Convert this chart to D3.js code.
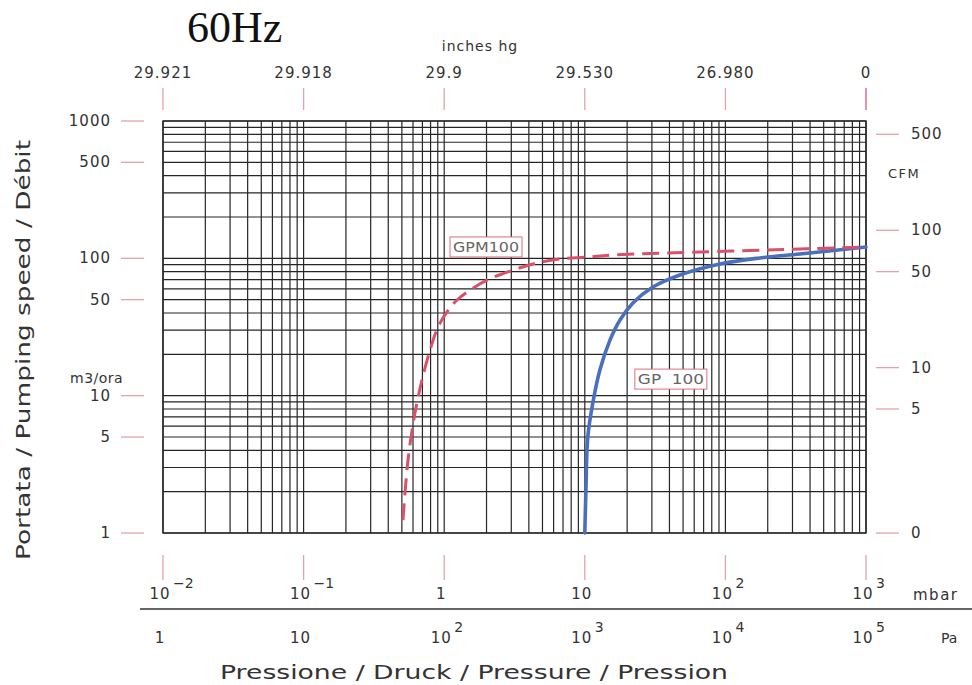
<!DOCTYPE html>
<html><head><meta charset="utf-8">
<script src="https://cdn.jsdelivr.net/npm/d3@7"></script>
<style>
html,body{margin:0;padding:0;background:#fff;}
svg{display:block;}
text{font-family:"DejaVu Sans",sans-serif;fill:#333;}
</style></head>
<body>
<svg id="c" width="972" height="685"></svg>
<script>
// ---- data ----
const pressureDomainMbar = [0.01, 1000];
const speedDomainM3h = [1, 1000];
const leftTicks = [1000, 500, 100, 50, 10, 5, 1];
const cfmTicks = [500, 100, 50, 10, 5, 0];
const cfmToM3h = 1.6; // approximate scale used on the original chart
const mbarTicks = [0.01, 0.1, 1, 10, 100, 1000];
const mbarBase = ["10", "10", "1", "10", "10", "10"];
const mbarExp = ["\u22122", "\u22121", "", "", "2", "3"];
const paBase = ["1", "10", "10", "10", "10", "10"];
const paExp = ["", "", "2", "3", "4", "5"];
const inHgLabels = ["29.921", "29.918", "29.9", "29.530", "26.980", "0"];

// series: [pressure mbar, pumping speed m3/h]
const gpm100 = [[0.509,1.24],[0.553,3.4],[0.62,7.5],[0.695,13],[0.793,21.5],[0.904,31.6],[1.047,40.7],[1.233,49.7],[1.526,58.8],[2.016,69.5],[3.08,82],[4.57,92.5],[6.66,98.9],[10.4,102],[15.8,105.7],[38.5,109.3],[198,115],[1000,121]];
const gp100 = [[10,1],[10.2,2.16],[10.5,5],[11.4,8.84],[12.8,15.4],[15.1,25.4],[17.8,35.6],[22,47.3],[30.5,61.8],[47.5,75.6],[91.5,90.9],[176,100.6],[339,107.6],[1000,121]];

// ---- layout ----
const svg = d3.select("#c");
const L = 163, R = 866, T = 121, B = 533;
const x = d3.scaleLog().domain(pressureDomainMbar).range([L, R]);
const y = d3.scaleLog().domain(speedDomainM3h).range([B, T]);
const pink = "#e3a3ad", grid = "#262626";

// title
svg.append("text").attr("x", 187).attr("y", 42)
  .style("font-family", "'Liberation Serif','Times New Roman',serif")
  .style("font-size", "44px").style("fill", "#111").text("60Hz");

// grid
const gx = svg.append("g");
gx.selectAll("line.v").data(x.ticks()).join("line")
  .attr("x1", d => x(d)).attr("x2", d => x(d)).attr("y1", T).attr("y2", B)
  .attr("stroke", grid).attr("stroke-width", 1.2);
gx.selectAll("line.h").data(y.ticks()).join("line")
  .attr("y1", d => y(d)).attr("y2", d => y(d)).attr("x1", L).attr("x2", R)
  .attr("stroke", grid).attr("stroke-width", 1.2);
gx.append("rect").attr("x", L).attr("y", T).attr("width", R - L).attr("height", B - T)
  .attr("fill", "none").attr("stroke", grid).attr("stroke-width", 1.4);

// left axis
const la = svg.append("g");
la.selectAll("line").data(leftTicks).join("line")
  .attr("x1", 121).attr("x2", 144).attr("y1", d => y(d)).attr("y2", d => y(d))
  .attr("stroke", pink).attr("stroke-width", 1.3);
la.selectAll("text").data(leftTicks).join("text")
  .attr("x", 111).attr("y", d => y(d) + 5).attr("text-anchor", "end")
  .style("font-size", "15px").style("letter-spacing", "1px").text(d => d);
svg.append("text").attr("x", 70).attr("y", 383).style("font-size", "14px")
  .style("letter-spacing", "0.5px").text("m3/ora");

// right axis (CFM)
const ra = svg.append("g");
const cfmPos = v => y(v === 0 ? 1 : v * cfmToM3h);
ra.selectAll("line").data(cfmTicks).join("line")
  .attr("x1", 876).attr("x2", 899).attr("y1", cfmPos).attr("y2", cfmPos)
  .attr("stroke", pink).attr("stroke-width", 1.3);
ra.selectAll("text").data(cfmTicks).join("text")
  .attr("x", 911).attr("y", d => cfmPos(d) + 5)
  .style("font-size", "15px").style("letter-spacing", "1px").text(d => d);
svg.append("text").attr("x", 888).attr("y", 178).style("font-size", "13px")
  .style("letter-spacing", "1.5px").text("CFM");

// top axis (inches hg)
const ta = svg.append("g");
ta.selectAll("line").data(mbarTicks).join("line")
  .attr("x1", d => x(d)).attr("x2", d => x(d)).attr("y1", 88).attr("y2", 110)
  .attr("stroke", (d, i) => i === mbarTicks.length - 1 ? "#d85a72" : pink).attr("stroke-width", 1.3);
ta.selectAll("text").data(mbarTicks).join("text")
  .attr("x", d => x(d)).attr("y", 78).attr("text-anchor", "middle")
  .style("font-size", "15px").style("letter-spacing", "1px").text((d, i) => inHgLabels[i]);
svg.append("text").attr("x", 480).attr("y", 51).attr("text-anchor", "middle")
  .style("font-size", "14px").style("letter-spacing", "1px").text("inches hg");

// bottom axis (mbar / Pa)
const ba = svg.append("g");
ba.selectAll("line").data(mbarTicks).join("line")
  .attr("x1", d => x(d)).attr("x2", d => x(d)).attr("y1", 555).attr("y2", 580)
  .attr("stroke", pink).attr("stroke-width", 1.3);
function expLabel(g, base, exp, baseline) {
  g.each(function (d, i) {
    const t = d3.select(this);
    const cx = x(d) - 3;
    t.append("text").attr("x", cx).attr("y", baseline).attr("text-anchor", "middle")
      .style("font-size", "15px").style("letter-spacing", "1px").text(base[i]);
    if (exp[i] !== "") {
      t.append("text").attr("x", cx + 13).attr("y", baseline - 11)
        .style("font-size", "14px").text(exp[i]);
    }
  });
}
ba.selectAll("g.m").data(mbarTicks).join("g").attr("class", "m")
  .call(g => expLabel(g, mbarBase, mbarExp, 599));
ba.selectAll("g.p").data(mbarTicks).join("g").attr("class", "p")
  .call(g => expLabel(g, paBase, paExp, 643));
svg.append("line").attr("x1", 140).attr("x2", 972).attr("y1", 609).attr("y2", 609)
  .attr("stroke", "#333").attr("stroke-width", 1.5);
svg.append("text").attr("x", 913).attr("y", 600).style("font-size", "15px")
  .style("letter-spacing", "1.5px").text("mbar");
svg.append("text").attr("x", 941).attr("y", 643).style("font-size", "14px").text("Pa");

// axis titles
svg.append("text").attr("x", 220).attr("y", 679)
  .attr("textLength", 508).attr("lengthAdjust", "spacingAndGlyphs")
  .style("font-size", "20px").text("Pressione / Druck / Pressure / Pression");
svg.append("text").attr("transform", "translate(30,560) rotate(-90)")
  .attr("textLength", 420).attr("lengthAdjust", "spacingAndGlyphs")
  .style("font-size", "20px").text("Portata / Pumping speed / Débit");

// curves
const line = d3.line().x(d => x(d[0])).y(d => y(d[1])).curve(d3.curveCatmullRom.alpha(0.5));
svg.append("path").datum(gp100).attr("d", line).attr("fill", "none")
  .attr("stroke", "#4a70bd").attr("stroke-width", 3.6).attr("stroke-linecap", "round");
svg.append("path").datum(gpm100).attr("d", line).attr("fill", "none")
  .attr("stroke", "#d9506c").attr("stroke-width", 3).attr("stroke-dasharray", "17,8");

// series labels
function boxLabel(px, sv, w, txt) {
  const g = svg.append("g");
  const cx = x(px), cy = y(sv);
  g.append("rect").attr("x", cx).attr("y", cy - 10).attr("width", w).attr("height", 20)
    .attr("fill", "#fff").attr("stroke", "#d87080").attr("stroke-width", 1);
  g.append("text").attr("x", cx + 3).attr("y", cy + 5).attr("textLength", w - 6)
    .attr("lengthAdjust", "spacingAndGlyphs")
    .style("font-size", "14px").style("fill", "#666").text(txt);
}
boxLabel(1.1, 121, 72, "GPM100");
boxLabel(22.7, 13.2, 72, "GP\u00a0\u00a0100");
</script>
</body></html>
